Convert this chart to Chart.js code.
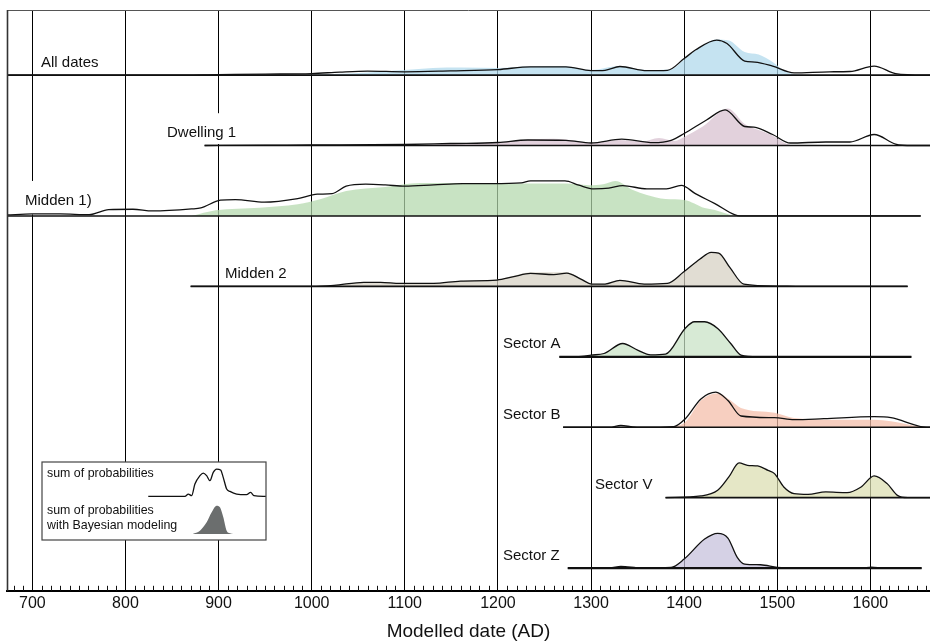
<!DOCTYPE html>
<html>
<head>
<meta charset="utf-8">
<script src="https://cdn.jsdelivr.net/npm/chart.js@4.4.1/dist/chart.umd.min.js"></script>
<style>
  html, body { margin: 0; padding: 0; background: #fff; }
  canvas { display: block; }
</style>
</head>
<body>
<canvas id="datesChart" width="930" height="641"></canvas>
<script>
// rows, top to bottom
const rowNames = ["All dates", "Dwelling 1", "Midden 1)", "Midden 2", "Sector A", "Sector B", "Sector V", "Sector Z"];
const rowStart = [673, 885, 673, 870, 1266, 1270, 1380, 1275];
const rowEnd = [1664, 1664, 1654, 1640, 1644, 1664, 1664, 1655];
const rowFill = ["#c5e3f1", "#e2d1dc", "#c8e3c3", "#e1ddd3", "#d7ead5", "#f7cfc0", "#e5e7c6", "#d5d1e5"];
const tickYears = [700, 800, 900, 1000, 1100, 1200, 1300, 1400, 1500, 1600];

// [year, density] – black line = sum of probabilities
const allDatesSum = [[673,0],[850,0],[900,0.5],[950,1],[1000,1.5],[1030,3],[1060,4],[1100,3.3],[1149,4.2],[1200,5.5],[1235,8.3],[1273,8.3],[1300,4.5],[1315,4.8],[1331,8.6],[1360,4.5],[1382,4.8],[1400,16.5],[1412,25],[1435,35],[1446,31.5],[1465,14],[1476,13],[1495,9],[1518,2.3],[1556,3.3],[1578,3.6],[1604,9],[1627,1.5],[1657,0],[1664,0]];
const dwellingSum = [[885,0],[950,0.3],[1000,0.5],[1100,1],[1149,2],[1200,3],[1232,5.5],[1273,5.2],[1300,2.5],[1333,6.3],[1367,2.8],[1386,5.2],[1400,12],[1424,25.5],[1444,35.5],[1465,19],[1475,18.3],[1495,11],[1514,2.5],[1552,3.5],[1578,3.5],[1604,11],[1627,1.5],[1645,0],[1664,0]];
const midden1Sum = [[673,1],[700,2],[730,2],[761,1.3],[782,6.3],[808,6.7],[829,5],[871,7],[881,8],[902,15.7],[918,16.3],[949,13.7],[985,17.3],[1006,21.7],[1022,22.3],[1037,29.7],[1058,31.7],[1079,31],[1100,29.7],[1131,31],[1162,32.3],[1194,32.3],[1225,33],[1235,35],[1272,35],[1287,30.7],[1303,27],[1319,27.7],[1334,30.3],[1360,27],[1381,27],[1397,30.5],[1412,22.3],[1433,12.3],[1454,1.3],[1460,0],[1654,0]];
const midden2Sum = [[870,0],[1000,0],[1024,1],[1056,4],[1074,4],[1095,3],[1131,3],[1160,5.3],[1199,6.3],[1217,9.7],[1235,13],[1260,11.7],[1274,13.3],[1289,7.3],[1301,2.3],[1315,2.3],[1331,6],[1357,2.3],[1382,3],[1399,14],[1417,27.3],[1429,34],[1437,33.3],[1449,19],[1464,2.3],[1503,0.3],[1520,0],[1640,0]];
const sectorA = [[1266,0],[1290,0.5],[1300,1.7],[1314,3.3],[1334,13.3],[1350,6.7],[1364,2],[1380,2.7],[1401,28.3],[1411,35],[1422,35],[1436,28.3],[1450,13.3],[1461,1.7],[1479,0],[1644,0]];
const sectorBSum = [[1270,0],[1320,0],[1332,1.7],[1345,0.3],[1354,0],[1389,0.7],[1401,8.3],[1418,28.3],[1434,35],[1447,26.7],[1461,11.2],[1497,9.5],[1518,7.5],[1550,8.5],[1604,10.5],[1622,9.5],[1654,0.7],[1664,0]];
const sectorV = [[1380,0],[1418,1.7],[1436,7.3],[1448,20.7],[1459,34.7],[1468,32.3],[1479,31.7],[1490,27.3],[1497,24],[1507,10.7],[1518,4],[1533,3.3],[1552,5.7],[1575,5],[1590,10.7],[1604,21.7],[1618,14],[1629,2.3],[1640,0],[1664,0]];
const sectorZ = [[1275,0],[1320,0],[1332,1.7],[1354,0],[1386,0.7],[1400,9],[1422,29],[1436,34.7],[1447,30],[1457,10.7],[1465,4],[1482,3.3],[1500,0.7],[1518,0],[1590,0],[1601,1],[1615,0],[1655,0]];

// [year, density] – coloured area = with Bayesian modeling
const allDatesModel = [[990,0],[1040,1.5],[1080,3.8],[1100,5],[1130,7],[1160,7.5],[1200,7],[1235,8.8],[1270,9],[1300,5],[1330,9],[1360,5],[1385,5.5],[1400,15.5],[1412,24.5],[1435,35.5],[1448,34.5],[1465,23],[1480,20.5],[1495,13],[1505,6],[1515,1.5],[1530,0]];
const dwellingModel = [[1100,0],[1150,1.8],[1200,3.3],[1230,5.8],[1260,6.8],[1280,5.3],[1300,2.3],[1330,5.5],[1355,4],[1373,7.5],[1390,4.5],[1400,8.5],[1420,19],[1447,37],[1465,21.5],[1480,15.5],[1495,10],[1505,4],[1515,0]];
const midden1Model = [[871,0],[897,5.7],[944,8.3],[985,11.7],[1010,17],[1037,25],[1079,29],[1116,33],[1168,33],[1220,32.3],[1272,32.3],[1298,30.7],[1313,31.7],[1326,35],[1345,26],[1360,21],[1380,17],[1400,16],[1422,8],[1433,6],[1450,1],[1456,0]];
const midden2Model = [[990,0],[1024,1],[1056,4],[1074,4],[1095,3],[1131,3],[1160,5.5],[1199,6.8],[1217,10.5],[1235,14],[1260,14],[1274,14],[1289,8],[1301,2.5],[1315,2.5],[1331,6],[1357,2.5],[1382,3],[1399,14],[1417,27.5],[1429,34.3],[1437,33.8],[1449,19],[1464,2.5],[1503,0.3],[1520,0]];
const sectorBModel = [[1385,0],[1401,5],[1418,26.7],[1436,34],[1450,26.7],[1461,19.3],[1497,14.5],[1518,9.3],[1568,7.5],[1604,7.5],[1622,6],[1654,0.7],[1664,0]];

// legend samples
const legendSumSample = [[824.5,0],[863.9,0],[867.5,2.3],[871.1,0.7],[874.6,12.3],[880,20.7],[883.6,23.3],[887.2,20.7],[890.7,15.7],[894.3,24],[897.9,27.3],[902.2,26.3],[905,19],[908.7,7.3],[912.2,5],[919.4,2.3],[930.1,1.7],[934.4,4],[938,0.7],[948,0],[950.6,0]];
const legendModelSample = [[872.2,0],[880,3.3],[887.2,11.7],[892.6,21.7],[897.9,28.3],[901.5,26.7],[905.1,16.7],[908.7,3.3],[912.2,0.7],[915.8,0]];

const sumSeries = [allDatesSum, dwellingSum, midden1Sum, midden2Sum, sectorA, sectorBSum, sectorV, sectorZ];
const modelSeries = [allDatesModel, dwellingModel, midden1Model, midden2Model, sectorA, sectorBModel, sectorV, sectorZ];

const FONT = "'Liberation Sans', Arial, Helvetica, sans-serif";
const INK = "#111";
const ROW_TOP = 515, ROW_GAP = 70.33;
const LEGEND_SUM_BASE = 94.3, LEGEND_MODEL_BASE = 56.7;
const labelX = [41, 167, 25, 225, 503, 503, 595, 503];
const labelLift = [8, 8.3, 11, 8.4, 8.4, 8.4, 8.3, 8];

function rowBase(i) { return ROW_TOP - i * ROW_GAP; }
function lift(points, base) { return points.map(([x, h]) => ({ x, y: base + h })); }
// translucent colour that looks like hex on white
function tint(hex, a) {
  const n = parseInt(hex.slice(1), 16);
  const c = [n >> 16, (n >> 8) & 255, n & 255].map(v => Math.round((v - 255 * (1 - a)) / a));
  return `rgba(${c.join(",")},${a})`;
}

const datasets = [];
rowNames.forEach((name, i) => {
  const base = rowBase(i);
  datasets.push({
    data: lift(modelSeries[i], base), borderWidth: 0, backgroundColor: tint(rowFill[i], 0.72),
    fill: { value: base }, pointRadius: 0, cubicInterpolationMode: "monotone", order: 3
  });
  datasets.push({
    data: [{ x: rowStart[i], y: base }, { x: rowEnd[i], y: base }], borderColor: INK,
    borderWidth: (i === 4 || i === 7) ? 2.2 : 1.6, pointRadius: 0, fill: false, order: 2
  });
  datasets.push({
    data: lift(sumSeries[i], base), borderColor: INK, borderWidth: 1.3, pointRadius: 0,
    fill: false, cubicInterpolationMode: "monotone", order: 1
  });
});
datasets.push({
  data: lift(legendModelSample, LEGEND_MODEL_BASE), borderWidth: 0, backgroundColor: "#6b6e6e",
  fill: { value: LEGEND_MODEL_BASE }, pointRadius: 0, cubicInterpolationMode: "monotone", order: 3
});
datasets.push({
  data: lift(legendSumSample, LEGEND_SUM_BASE), borderColor: INK, borderWidth: 1.3, pointRadius: 0,
  fill: false, cubicInterpolationMode: "monotone", order: 1
});

const decorations = {
  id: "decorations",
  beforeDatasetsDraw(chart) {
    const { ctx, scales: { y } } = chart;
    ctx.save();
    ctx.font = `15px ${FONT}`;
    rowNames.forEach((name, i) => {
      const basePx = y.getPixelForValue(rowBase(i));
      const ty = basePx - labelLift[i];
      const w = ctx.measureText(name).width;
      ctx.fillStyle = "#fff";
      ctx.fillRect(labelX[i] - 2, ty - 24, w + 4, basePx - 1.5 - (ty - 24));
      ctx.fillStyle = INK;
      ctx.textBaseline = "alphabetic";
      ctx.fillText(name, labelX[i], ty);
    });
    // legend box
    ctx.fillStyle = "#fff";
    ctx.fillRect(42, 462, 224, 78);
    ctx.strokeStyle = "#444";
    ctx.lineWidth = 1.2;
    ctx.strokeRect(42, 462, 224, 78);
    ctx.fillStyle = INK;
    ctx.font = `12.4px ${FONT}`;
    ctx.fillText("sum of probabilities", 47, 477);
    ctx.fillText("sum of probabilities", 47, 514);
    ctx.fillText("with Bayesian modeling", 47, 529);
    ctx.restore();
  },
  afterDraw(chart) {
    const { ctx, chartArea: a, scales: { x } } = chart;
    ctx.save();
    ctx.strokeStyle = INK;
    ctx.lineWidth = 1;
    for (let yr = 680; yr <= 1660; yr += 10) {
      if (yr % 100 === 0) continue;
      const px = Math.round(x.getPixelForValue(yr)) + 0.5;
      ctx.beginPath();
      ctx.moveTo(px, a.bottom - 5);
      ctx.lineTo(px, a.bottom);
      ctx.stroke();
    }
    ctx.strokeStyle = "#555";
    ctx.beginPath();
    ctx.moveTo(a.left, a.top + 0.5);
    ctx.lineTo(a.right, a.top + 0.5);
    ctx.stroke();
    ctx.strokeStyle = "#333";
    ctx.lineWidth = 1.6;
    ctx.beginPath();
    ctx.moveTo(a.left + 0.5, a.top);
    ctx.lineTo(a.left + 0.5, a.bottom);
    ctx.stroke();
    ctx.restore();
  }
};

new Chart(document.getElementById("datesChart"), {
  type: "line",
  data: { datasets },
  options: {
    responsive: false,
    animation: false,
    devicePixelRatio: 1,
    layout: { padding: { left: 7, right: 0, top: 10, bottom: 0 } },
    plugins: { legend: { display: false }, tooltip: { enabled: false } },
    scales: {
      x: {
        type: "linear",
        min: 672.8,
        max: 1664,
        afterBuildTicks: (scale) => { scale.ticks = tickYears.map(v => ({ value: v })); },
        grid: { color: "#000", lineWidth: 1, drawTicks: false },
        border: { display: true, color: "#000", width: 2 },
        ticks: {
          padding: 3,
          color: INK,
          font: { family: FONT, size: 16 },
          maxRotation: 0,
          autoSkip: false,
          callback: (v) => String(v)
        },
        title: {
          display: true,
          text: "Modelled date (AD)",
          color: INK,
          font: { family: FONT, size: 19, lineHeight: 1 },
          padding: { top: 6, bottom: 0 }
        }
      },
      y: { display: false, min: 0, max: 580 }
    }
  },
  plugins: [decorations]
});
</script>
</body>
</html>
